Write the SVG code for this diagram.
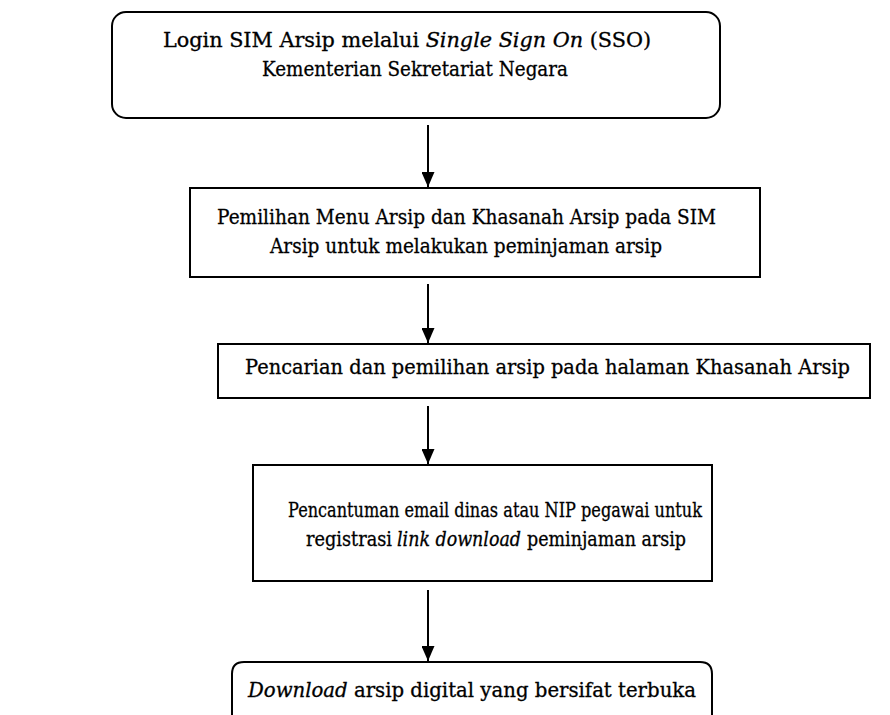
<svg xmlns="http://www.w3.org/2000/svg" width="890" height="715" viewBox="0 0 890 715">
<style>
.box{fill:#fff;stroke:#000;stroke-width:2}
.t{font-family:"DejaVu Serif","Liberation Serif",serif;font-size:19.5px;fill:#000;stroke:#000;stroke-width:0.3}
.i{font-style:italic}
.c{stroke:#000;stroke-width:2;fill:none}
</style>
<defs>
<marker id="ah" markerWidth="15" markerHeight="13" refX="15" refY="6.5" orient="auto" markerUnits="userSpaceOnUse" viewBox="0 0 15 13">
<path d="M0,0 L15,6.5 L0,13 Z" fill="#000"/>
</marker>
</defs>
<rect width="890" height="715" fill="#fff"/>
<g id="n1">
<rect class="box" x="112" y="12" width="608" height="106" rx="14"/>
<text class="t" x="163" y="47" textLength="488" lengthAdjust="spacingAndGlyphs">Login SIM Arsip melalui <tspan class="i">Single Sign On</tspan> (SSO)</text>
<text class="t" x="262" y="76" textLength="306" lengthAdjust="spacingAndGlyphs">Kementerian Sekretariat Negara</text>
</g>
<g id="n2">
<rect class="box" x="190" y="188" width="570" height="89"/>
<text class="t" x="217" y="224" textLength="499" lengthAdjust="spacingAndGlyphs">Pemilihan Menu Arsip dan Khasanah Arsip pada SIM</text>
<text class="t" x="270" y="253" textLength="392" lengthAdjust="spacingAndGlyphs">Arsip untuk melakukan peminjaman arsip</text>
</g>
<g id="n3">
<rect class="box" x="218" y="344" width="652" height="54"/>
<text class="t" x="245" y="374" textLength="605" lengthAdjust="spacingAndGlyphs">Pencarian dan pemilihan arsip pada halaman Khasanah Arsip</text>
</g>
<g id="n4">
<rect class="box" x="253" y="465" width="459" height="116"/>
<text class="t" x="288" y="517" textLength="414" lengthAdjust="spacingAndGlyphs">Pencantuman email dinas atau NIP pegawai untuk</text>
<text class="t" x="306" y="546" textLength="86" lengthAdjust="spacingAndGlyphs">registrasi</text>
<text class="t i" x="397" y="546" textLength="124" lengthAdjust="spacingAndGlyphs">link download</text>
<text class="t" x="527" y="546" textLength="159" lengthAdjust="spacingAndGlyphs">peminjaman arsip</text>
</g>
<g id="n5">
<path class="box" d="M232,730 L232,674 Q232,662 244,662 L700,662 Q712,662 712,674 L712,730"/>
<text class="t" x="248" y="697" textLength="448" lengthAdjust="spacingAndGlyphs"><tspan class="i">Download</tspan> arsip digital yang bersifat terbuka</text>
</g>
<g id="connectors">
<line class="c" x1="428" y1="125" x2="428" y2="187" marker-end="url(#ah)"/>
<line class="c" x1="428" y1="284" x2="428" y2="343" marker-end="url(#ah)"/>
<line class="c" x1="428" y1="406" x2="428" y2="464" marker-end="url(#ah)"/>
<line class="c" x1="428" y1="590" x2="428" y2="661" marker-end="url(#ah)"/>
</g>
</svg>
